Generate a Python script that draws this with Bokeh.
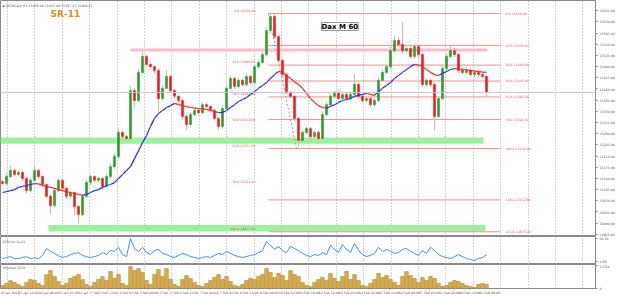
import numpy as np
from bokeh.plotting import figure
from bokeh.layouts import column
from bokeh.models import (Range1d, FixedTicker, Label, Span, PrintfTickFormatter,
                          NumeralTickFormatter, CustomJSTickFormatter)
from bokeh.core.properties import value
from bokeh.embed import file_html
from bokeh.resources import INLINE

# ---------------- data ----------------
symbol = "DE30Cash,H1"
first_open = 15130.0
close = [15124, 15146, 15165, 15152, 15159, 15140, 15102, 15134, 15165, 15146,
         15121, 15084, 15055, 15102, 15134, 15109, 15084, 15096, 15052, 15027,
         15084, 15127, 15146, 15134, 15140, 15115, 15146, 15177, 15209, 15284,
         15271, 15265, 15415, 15384, 15472, 15522, 15497, 15490, 15478, 15390,
         15422, 15459, 15415, 15397, 15384, 15334, 15309, 15340, 15353, 15346,
         15371, 15365, 15353, 15328, 15303, 15359, 15422, 15453, 15428, 15447,
         15434, 15459, 15440, 15490, 15503, 15528, 15603, 15647, 15584, 15509,
         15465, 15409, 15397, 15328, 15259, 15284, 15296, 15271, 15284, 15265,
         15340, 15371, 15397, 15409, 15390, 15403, 15390, 15403, 15434, 15397,
         15384, 15390, 15371, 15384, 15447, 15472, 15490, 15540, 15572, 15559,
         15540, 15547, 15522, 15553, 15528, 15434, 15447, 15434, 15334, 15390,
         15484, 15522, 15540, 15528, 15478, 15472, 15478, 15465, 15472, 15465,
         15459, 15409.23]
upper_wick = [6, 8, 16, 5, 7, 4, 6, 9, 16, 5, 4, 3, 6, 10, 8, 5, 4, 6, 3, 5,
              9, 8, 7, 5, 6, 4, 8, 9, 10, 12, 6, 5, 14, 8, 10, 19, 6, 8, 5, 7,
              9, 19, 5, 6, 4, 5, 6, 8, 7, 5, 6, 7, 4, 5, 6, 8, 10, 9, 6, 8,
              7, 9, 6, 8, 7, 10, 12, 13, 9, 6, 5, 7, 6, 5, 4, 8, 7, 5, 6, 5,
              9, 8, 7, 6, 8, 7, 6, 9, 34, 6, 5, 7, 6, 8, 10, 9, 8, 12, 16, 7,
              69, 8, 10, 9, 7, 5, 8, 6, 4, 9, 12, 10, 16, 8, 5, 7, 9, 6, 7, 6,
              8, 4]
lower_wick = [5, 6, 4, 7, 5, 8, 9, 6, 5, 7, 8, 6, 25, 6, 5, 7, 8, 6, 28, 28,
              6, 5, 7, 6, 8, 12, 5, 6, 7, 6, 8, 7, 9, 22, 6, 5, 7, 6, 8, 44,
              6, 5, 7, 8, 9, 10, 18, 6, 5, 7, 6, 5, 8, 7, 13, 9, 6, 5, 8, 7,
              6, 7, 5, 6, 7, 5, 6, 8, 7, 9, 8, 6, 7, 9, 22, 8, 6, 9, 7, 16,
              6, 7, 5, 8, 6, 7, 5, 6, 7, 9, 8, 7, 9, 6, 7, 5, 6, 8, 7, 6,
              8, 9, 7, 6, 10, 8, 9, 7, 44, 6, 5, 7, 6, 8, 9, 6, 7, 8, 6, 7,
              6, 12]
ma = [15096, 15099, 15102, 15105, 15112, 15115, 15118, 15121, 15124, 15123,
      15118, 15115, 15112, 15109, 15105, 15102, 15099, 15096, 15093, 15090,
      15087, 15090, 15096, 15102, 15105, 15112, 15118, 15121, 15127, 15140,
      15152, 15165, 15177, 15202, 15227, 15252, 15274, 15303, 15328, 15343,
      15353, 15362, 15368, 15375, 15371, 15368, 15365, 15362, 15360, 15359,
      15357, 15356, 15353, 15350, 15346, 15346, 15353, 15362, 15371, 15381,
      15387, 15393, 15403, 15412, 15422, 15431, 15440, 15453, 15465, 15475,
      15472, 15462, 15453, 15443, 15434, 15422, 15406, 15390, 15378, 15368,
      15362, 15360, 15365, 15371, 15378, 15384, 15387, 15390, 15397, 15400,
      15403, 15406, 15403, 15400, 15412, 15422, 15431, 15440, 15453, 15462,
      15472, 15481, 15490, 15497, 15495, 15490, 15481, 15472, 15465, 15462,
      15469, 15475, 15481, 15484, 15483, 15481, 15480, 15478, 15476, 15475,
      15473, 15472]
atr = [12, 15, 17, 12, 12, 15, 17, 12, 14, 12, 20, 37, 30, 25, 19, 15, 17, 22, 25, 27,
       20, 17, 15, 17, 20, 27, 22, 32, 30, 40, 22, 17, 62, 37, 30, 40, 27, 22, 32, 35,
       25, 22, 17, 15, 20, 25, 22, 17, 15, 12, 15, 17, 15, 20, 25, 22, 30, 25, 20, 17,
       15, 17, 20, 22, 27, 32, 55, 45, 35, 42, 32, 27, 42, 37, 32, 25, 20, 17, 22, 20,
       27, 22, 45, 35, 27, 47, 35, 27, 50, 32, 22, 17, 20, 25, 40, 30, 35, 30, 25, 27,
       35, 37, 30, 25, 20, 32, 25, 40, 32, 22, 17, 15, 12, 17, 22, 17, 12, 10, 7, 12,
       15, 21.61]
volume = [1712, 2934, 4587, 3502, 2281, 1190, 3455, 5241, 4603, 2877,
          1765, 8093, 10488, 6921, 4077, 1733, 2912, 5846, 6988, 8154,
          5199, 2346, 1148, 3511, 5243, 6937, 4622, 9871, 5813, 8107,
          2915, 1722, 12781, 10412, 11634, 9266, 4659, 2303, 8139, 11047,
          6948, 11592, 5234, 2337, 1171, 5206, 7561, 5822, 3467, 1748,
          1152, 2921, 4613, 6394, 8102, 5237, 6975, 4041, 1759, 1166,
          2338, 4627, 5817, 5209, 6944, 8133, 11618, 9294, 6362, 8721,
          7552, 4651, 10427, 8109, 6972, 3491, 1727, 1154, 3476, 5228,
          6371, 4634, 8716, 5791, 4066, 6953, 9882, 5214, 8127, 4648,
          1736, 1163, 2908, 5225, 8694, 6388, 7547, 5216, 3489, 1744,
          6966, 9847, 7533, 5808, 3472, 6374, 4639, 6957, 5803, 2912,
          1157, 1738, 3484, 4642, 4053, 2906, 1745, 1162, 583, 2317,
          2894, 2470]
time_labels = ["26 Jan 2023", "27 Jan 12:00", "30 Jan 08:00", "31 Jan 01:00", "31 Jan 17:00",
               "1 Feb 13:00", "2 Feb 07:00", "3 Feb 00:00", "3 Feb 17:00", "6 Feb 11:00",
               "7 Feb 04:00", "7 Feb 21:00", "8 Feb 15:00", "9 Feb 08:00", "10 Feb 01:00",
               "10 Feb 18:00", "13 Feb 12:00", "14 Feb 05:00", "14 Feb 22:00", "15 Feb 16:00",
               "16 Feb 09:00", "17 Feb 03:00", "17 Feb 20:00", "20 Feb 14:00", "21 Feb 08:00"]
price_ticks = list(range(14965, 15700, 35))
atr_ticks = [4.88, 62.36]
volume_ticks = [0, 13324]

# support / resistance zones: (bottom, top, first bar, last bar)
zone_bottom = [15249, 14974]
zone_top = [15268, 14994]
zone_start = [-0.5, 11.5]
zone_end = [120.25, 120.75]
resistance_level = 15542
resistance_span = (32, 121.25)

# Fibonacci retracements
fib_levels_a = [0.0, 23.6, 38.2, 50.0, 61.8, 78.6, 100.0]
fib_a_high, fib_a_low = 15659.0, 14977.0
fib_levels_b = [0.0, 23.6, 38.2, 50.0, 61.8, 78.6, 100.0, 138.2, 161.8]
fib_b_high, fib_b_low = 15656.0, 15234.0
fib_b_anchor = (66.5, 73.5)
fib_line_end = 124.5

# ---------------- derived ----------------
N = len(close)
idx = np.arange(N)
opens = [first_open] + close[:-1]
highs = [max(o, c) + u for o, c, u in zip(opens, close, upper_wick)]
lows = [min(o, c) - d for o, c, d in zip(opens, close, lower_wick)]
bull = [c >= o for o, c in zip(opens, close)]
body_col = ["#2e9e2e" if b else "#f01e1e" for b in bull]
wick_col = ["#9fd89f" if b else "#f7a6a6" for b in bull]

FONT = "DejaVu Sans"
xr = Range1d(-0.5, 148.25)
grid_ticks = [1.25 + 6.85 * k for k in range(22)]
label_ticks = [1.5 + 5.0125 * k for k in range(len(time_labels))]


def style_y(fig, ticks, fmt):
    ax = fig.yaxis[0]
    ax.ticker = FixedTicker(ticks=ticks)
    ax.formatter = fmt
    ax.major_label_text_font_size = "3.2px"
    ax.major_label_text_font = FONT
    ax.major_label_text_color = "#555555"
    ax.major_tick_out = 2
    ax.major_tick_in = 0
    ax.minor_tick_line_color = None
    ax.axis_line_color = "#8a8a8a"
    ax.major_tick_line_color = "#8a8a8a"
    ax.major_label_standoff = 2


def style_common(fig):
    fig.outline_line_color = "#8a8a8a"
    fig.xgrid.ticker = FixedTicker(ticks=grid_ticks)
    fig.xgrid.grid_line_color = "#a8a8a8"
    fig.xgrid.grid_line_dash = "1 2"
    fig.ygrid.visible = False


common = dict(x_range=xr, output_backend="svg", toolbar_location=None,
              y_axis_location="right", min_border_left=0, min_border_right=30,
              min_border_top=0, min_border_bottom=0,
              background_fill_color="white", border_fill_color="white")

# ---------------- main price panel ----------------
p = figure(width=625, height=236, y_range=Range1d(14958.3, 15697.0),
           x_axis_location=None, **common)
style_common(p)
style_y(p, price_ticks, NumeralTickFormatter(format="0.00"))

p.quad(left=zone_start, right=zone_end, bottom=zone_bottom, top=zone_top,
       fill_color="#9cf29c", line_color=None)
p.segment(x0=[resistance_span[0]], y0=[resistance_level], x1=[resistance_span[1]],
          y1=[resistance_level], line_color="#ffbcc8", line_width=3)

fib_b_prices = [fib_b_high - lv / 100.0 * (fib_b_high - fib_b_low) for lv in fib_levels_b]
p.segment(x0=[fib_b_anchor[0]] * len(fib_b_prices), y0=fib_b_prices,
          x1=[fib_line_end] * len(fib_b_prices), y1=fib_b_prices,
          line_color="#ff8c8c", line_width=1)
p.segment(x0=[fib_b_anchor[0]], y0=[fib_b_high], x1=[fib_b_anchor[1]], y1=[fib_b_low],
          line_color="#9a9a9a", line_width=1, line_dash="2 2")
p.text(x=[fib_line_end + 1.25] * len(fib_b_prices), y=fib_b_prices,
       text=[f"{lv:.1f} {pr:.2f}" for lv, pr in zip(fib_levels_b, fib_b_prices)],
       text_font_size="3.2px", text_color="#e05050", text_baseline="middle",
       text_font=value(FONT))

fib_a_prices = [fib_a_high - lv / 100.0 * (fib_a_high - fib_a_low) for lv in fib_levels_a]
p.text(x=[fib_b_anchor[0] - 3.25] * len(fib_a_prices), y=fib_a_prices,
       text=[f"{lv:.1f} {pr:.2f}" for lv, pr in zip(fib_levels_a, fib_a_prices)],
       text_font_size="3.2px", text_color="#e05050", text_baseline="bottom",
       text_align="right", text_font=value(FONT))

p.segment(x0=idx, y0=lows, x1=idx, y1=highs, line_color=wick_col, line_width=1)
p.vbar(x=idx, width=0.5, top=[max(o, c) for o, c in zip(opens, close)],
       bottom=[min(o, c) for o, c in zip(opens, close)],
       fill_color=body_col, line_color=body_col, line_width=0.6)

ma_col = ["#2b2bf5" if ma[i + 1] >= ma[i] else "#f02828" for i in range(N - 1)]
p.segment(x0=idx[:-1], y0=ma[:-1], x1=idx[1:], y1=ma[1:], line_color=ma_col, line_width=1.2)

p.add_layout(Span(location=close[-1], dimension="width", line_color="#c4c4dc", line_width=1))

p.add_layout(Label(x=596, y=close[-1], x_units="screen", y_units="data",
                   text=f"{close[-1]:.2f}", text_font_size="3.2px", text_color="white",
                   text_font=FONT, text_baseline="middle",
                   background_fill_color="black"))
p.add_layout(Label(x=2, y=231, x_units="screen", y_units="screen",
                   text=f"\u25aa {symbol}  {opens[-1]:.2f} {highs[-1]:.2f} {lows[-1]:.2f} {close[-1]:.2f}",
                   text_font_size="3.2px", text_color="#555555", text_font=FONT,
                   text_baseline="middle"))
p.add_layout(Label(x=50, y=223, x_units="screen", y_units="screen", text="SR-11",
                   text_font_size="9px", text_font_style="bold", text_color="#c8961e",
                   text_font=FONT, text_baseline="middle"))
p.add_layout(Label(x=321, y=210, x_units="screen", y_units="screen", text="Dax M 60",
                   text_font_size="7px", text_font_style="bold", text_color="black",
                   text_font=FONT, text_baseline="middle",
                   background_fill_color="white", border_line_color="#999999"))

# ---------------- ATR panel ----------------
pa = figure(width=625, height=28, y_range=Range1d(-2.56, 66.88),
            x_axis_location=None, **common)
style_common(pa)
style_y(pa, atr_ticks, PrintfTickFormatter(format="%.2f"))
pa.line(idx, atr, line_color="#3d8ef0", line_width=1)
pa.add_layout(Label(x=2, y=23, x_units="screen", y_units="screen",
                    text=f"ATR(14) {atr[-1]:.2f}", text_font_size="3.2px",
                    text_color="#555555", text_font=FONT, text_baseline="middle"))

# ---------------- Volume panel ----------------
pv = figure(width=625, height=33, y_range=Range1d(0, 14000), **common)
style_common(pv)
style_y(pv, volume_ticks, PrintfTickFormatter(format="%d"))
pv.vbar(x=idx, width=0.9, top=volume, bottom=0, fill_color="#d7ab4f",
        line_color="#b5862a", line_width=0.6)
ax = pv.xaxis[0]
ax.ticker = FixedTicker(ticks=label_ticks)
ax.formatter = CustomJSTickFormatter(args=dict(labels=time_labels),
                                     code="return labels[index] || '';")
ax.major_label_text_font_size = "3.2px"
ax.major_label_text_font = FONT
ax.major_label_text_color = "#555555"
ax.major_tick_out = 1
ax.major_tick_in = 0
ax.minor_tick_line_color = None
ax.axis_line_color = "#8a8a8a"
ax.major_tick_line_color = "#8a8a8a"
ax.major_label_standoff = 1
pv.add_layout(Label(x=2, y=21, x_units="screen", y_units="screen",
                    text=f"Volumes {volume[-1]}", text_font_size="3.2px",
                    text_color="#555555", text_font=FONT, text_baseline="middle"))

layout = column(p, pa, pv, spacing=0)
open("out.html", "w").write(file_html(layout, INLINE))
